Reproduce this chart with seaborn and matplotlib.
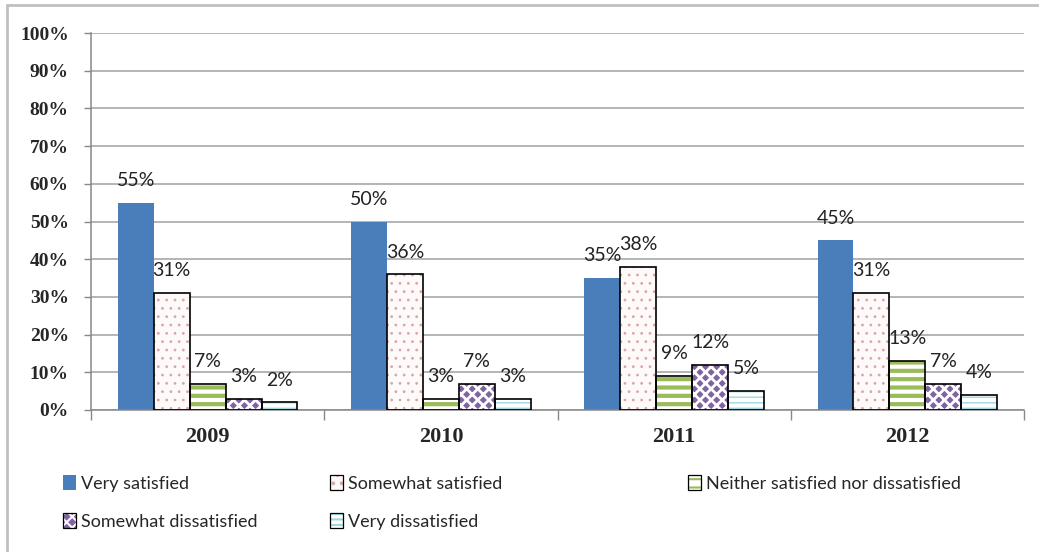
import matplotlib
matplotlib.use("Agg")
import matplotlib.pyplot as plt
import seaborn as sns
import pandas as pd
from matplotlib.patches import Rectangle
from matplotlib.lines import Line2D

# data
years = ["2009", "2010", "2011", "2012"]
levels = ["Very satisfied", "Somewhat satisfied", "Neither satisfied nor dissatisfied",
          "Somewhat dissatisfied", "Very dissatisfied"]
very_satisfied = [55, 50, 35, 45]
somewhat_satisfied = [31, 36, 38, 31]
neither = [7, 3, 9, 13]
somewhat_dissatisfied = [3, 7, 12, 7]
very_dissatisfied = [2, 3, 5, 4]

series = [very_satisfied, somewhat_satisfied, neither, somewhat_dissatisfied, very_dissatisfied]
rows = []
for lev, vals in zip(levels, series):
    for y, v in zip(years, vals):
        rows.append({"year": y, "level": lev, "pct": v})
df = pd.DataFrame(rows)

# fill, hatch, hatch colour, hatch width
styles = [
    ("#4a7ebb", "", "#4a7ebb", 1.0),
    ("#fffafa", "..", "#d8a8a8", 0.8),
    ("white", "--", "#9bbb59", 3.0),
    ("#8064a2", "xxx", "white", 2.0),
    ("white", "---", "#9fd6e0", 1.0),
]

sns.set_style("white")
plt.rcParams["font.family"] = ["Lato", "DejaVu Sans"]
plt.rcParams["hatch.linewidth"] = 1.5


def style_patch(p, i):
    face, hatch, hcol, hw = styles[i]
    p.set_facecolor(face)
    p.set_hatch(hatch)
    p.set_edgecolor(hcol)
    if hasattr(p, "set_hatch_linewidth"):
        p.set_hatch_linewidth(hw)


fig = plt.figure(figsize=(10.39, 5.52), dpi=100)
ax = fig.add_axes([91 / 1039, 1 - 410 / 552, (1024 - 91) / 1039, (410 - 33) / 552])

sns.barplot(data=df, x="year", y="pct", hue="level", order=years, hue_order=levels,
            width=0.77, gap=0, ax=ax, legend=False, errorbar=None)

ax.set_ylim(0, 100)
ax.set_xlim(-0.5, 3.5)

for i, bars in enumerate(ax.containers):
    for bar in bars:
        style_patch(bar, i)
        bar.set_linewidth(0)
        if i > 0:
            x0, y0 = bar.get_xy()
            ax.add_patch(Rectangle((x0, y0), bar.get_width(), bar.get_height(),
                                   fill=False, edgecolor="black", linewidth=1.2, zorder=3))
        ax.annotate(f"{int(bar.get_height())}%", (bar.get_x() + bar.get_width() / 2, bar.get_height()),
                    xytext=(0, 16), textcoords="offset points", ha="center", va="center",
                    fontsize=14, color="#222222", zorder=4)

# axes styling
ax.set_yticks(range(0, 101, 10))
ax.set_yticklabels([f"{v}%" for v in range(0, 101, 10)], family="Liberation Serif",
                   fontweight="bold", fontsize=14)
ax.set_xticks(range(len(years)))
ax.set_xticklabels(years, family="Liberation Serif", fontweight="bold", fontsize=16)
ax.set_xticks([-0.5, 0.5, 1.5, 2.5, 3.5], minor=True)
ax.tick_params(axis="x", which="major", length=0, pad=12)
ax.tick_params(axis="x", which="minor", length=7, color="#888888", width=1, direction="out", bottom=True)
ax.tick_params(axis="y", length=5, color="#888888", width=1, direction="out", pad=11, left=True)
ax.set_xlabel("")
ax.set_ylabel("")
ax.grid(axis="y", color="#a0a0a0", linewidth=1.1)
ax.set_axisbelow(True)
for s in ["top", "right"]:
    ax.spines[s].set_visible(False)
for s in ["left", "bottom"]:
    ax.spines[s].set_color("#888888")
    ax.spines[s].set_linewidth(1.1)

# legend in three columns, placed like the original
handles = []
for i, lev in enumerate(levels):
    fill = Rectangle((0, 0), 1, 1, linewidth=0)
    style_patch(fill, i)
    fill.set_linewidth(0)
    if i == 0:
        handles.append(fill)
    else:
        outline = Rectangle((0, 0), 1, 1, fill=False, edgecolor="black", linewidth=0.9)
        handles.append((fill, outline))
cols = [(67, [0, 3]), (334, [1, 4]), (692, [2])]
for xpix, idx in cols:
    fig.legend([handles[k] for k in idx], [levels[k] for k in idx],
               loc="upper left", bbox_to_anchor=(xpix / 1039 - 0.004, 1 - 475 / 552),
               frameon=False, fontsize=13, handlelength=0.75, handleheight=0.9,
               handletextpad=0.25, labelspacing=1.2, borderpad=0, borderaxespad=0)

# outer chart border
fig.add_artist(Line2D([7 / 1039, 7 / 1039], [0, 1 - 5 / 552], color="#c0c0c0", linewidth=2))
fig.add_artist(Line2D([7 / 1039, 1], [1 - 5 / 552, 1 - 5 / 552], color="#c0c0c0", linewidth=2))

fig.savefig("out.png", dpi=100)
